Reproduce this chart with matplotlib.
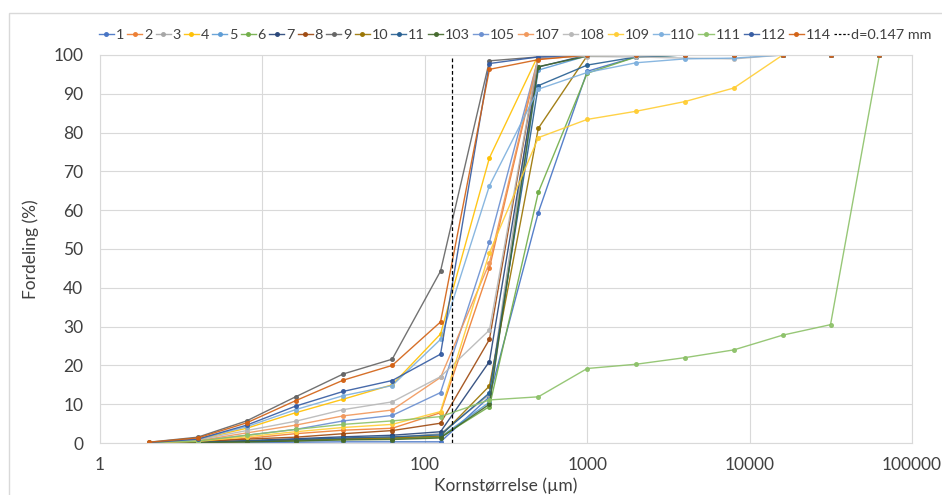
import matplotlib
matplotlib.use("Agg")
import matplotlib.pyplot as plt
from matplotlib.lines import Line2D
from matplotlib.patches import Rectangle
from matplotlib.ticker import FixedLocator, FixedFormatter, NullLocator

# Sieve / grain sizes (µm)
sizes = [2, 4, 8, 16, 31.5, 63, 125, 250, 500, 1000, 2000, 4000, 8000, 16000, 31500, 63000]

# Cumulative distribution (%) per sample
s1 = [0.0, 0.0, 0.1, 0.2, 0.3, 0.3, 0.3, 11.9, 59.4, 95.8, 99.5, 100, 100, 100, 100, 100]
s2 = [0.1, 0.3, 1.2, 2.4, 3.3, 3.8, 7.8, 45.1, 99.0, 99.8, 100, 100, 100, 100, 100, 100]
s3 = [0.0, 0.1, 0.5, 0.9, 1.2, 1.4, 2.4, 12.5, 99.5, 100, 100, 100, 100, 100, 100, 100]
s4 = [0.1, 0.9, 3.8, 7.8, 11.3, 15.0, 28.1, 73.5, 100, 100, 100, 100, 100, 100, 100, 100]
s5 = [0.0, 0.1, 0.4, 0.7, 1.0, 1.2, 1.6, 10.5, 96.1, 99.8, 100, 100, 100, 100, 100, 100]
s6 = [0.0, 0.1, 0.3, 0.6, 0.9, 1.1, 1.5, 9.4, 64.6, 95.3, 99.5, 100, 100, 100, 100, 100]
s7 = [0.0, 0.2, 0.6, 1.1, 1.6, 2.0, 2.9, 21.0, 96.9, 100, 100, 100, 100, 100, 100, 100]
s8 = [0.1, 0.3, 1.0, 1.5, 2.4, 3.2, 5.1, 26.7, 99.5, 100, 100, 100, 100, 100, 100, 100]
s9 = [0.2, 1.5, 5.7, 11.9, 17.8, 21.6, 44.3, 98.5, 99.5, 100, 100, 100, 100, 100, 100, 100]
s10 = [0.0, 0.1, 0.4, 0.8, 1.1, 1.3, 1.8, 14.7, 81.1, 99.8, 100, 100, 100, 100, 100, 100]
s11 = [0.0, 0.2, 0.5, 0.9, 1.3, 1.6, 2.1, 12.9, 92.1, 97.4, 99.5, 100, 100, 100, 100, 100]
s103 = [0.0, 0.1, 0.3, 0.5, 0.8, 0.9, 1.3, 10.0, 97.0, 99.7, 100, 100, 100, 100, 100, 100]
s105 = [0.1, 0.5, 2.0, 3.5, 5.7, 7.1, 13.0, 51.8, 99.2, 100, 100, 100, 100, 100, 100, 100]
s107 = [0.1, 0.6, 2.6, 4.6, 7.0, 8.5, 16.9, 46.4, 99.5, 100, 100, 100, 100, 100, 100, 100]
s108 = [0.1, 0.8, 3.2, 5.6, 8.6, 10.6, 17.1, 29.1, 99.5, 99.6, 99.5, 99.2, 99.0, 100, 100, 100]
s109 = [0.1, 0.4, 1.6, 2.9, 4.0, 4.8, 8.1, 49.0, 78.7, 83.4, 85.5, 88.0, 91.5, 100, 100, 100]
s110 = [0.1, 1.0, 4.2, 8.6, 12.2, 14.8, 26.7, 66.3, 91.2, 95.5, 98.0, 99.0, 99.2, 100, 100, 100]
s111 = [0.1, 0.5, 2.0, 3.5, 4.8, 5.7, 6.8, 11.1, 11.9, 19.2, 20.3, 22.0, 24.0, 27.8, 30.5, 100]
s112 = [0.1, 1.0, 4.6, 9.5, 13.3, 16.1, 22.9, 97.8, 99.5, 100, 100, 100, 100, 100, 100, 100]
s114 = [0.2, 1.3, 5.2, 10.9, 16.2, 20.0, 31.2, 96.3, 98.8, 100, 100, 100, 100, 100, 100, 100]

labels = ["1", "2", "3", "4", "5", "6", "7", "8", "9", "10", "11",
          "103", "105", "107", "108", "109", "110", "111", "112", "114"]
series = [s1, s2, s3, s4, s5, s6, s7, s8, s9, s10, s11,
          s103, s105, s107, s108, s109, s110, s111, s112, s114]
colors = ["#4472C4", "#ED7D31", "#A5A5A5", "#FFC000", "#5B9BD5", "#70AD47",
          "#264478", "#9E480E", "#636363", "#997300", "#255E91", "#43682B",
          "#698ED0", "#F1975A", "#B7B7B7", "#FFCD33", "#7CAFDD", "#8CC168",
          "#335AA1", "#D26012"]

d_limit = 147          # µm
d_label = "d=0.147 mm"

x_ticks = [1, 10, 100, 1000, 10000, 100000]
x_ticklabels = ["1", "10", "100", "1000", "10000", "100000"]
y_ticks = list(range(0, 101, 10))

plt.rcParams["font.family"] = ["Lato", "DejaVu Sans"]

W, H = 942, 495
fig = plt.figure(figsize=(W / 100, H / 100), dpi=100)
ax = fig.add_axes([100 / W, 1 - 443 / H, 812 / W, 388 / H])

grid_c = "#D9D9D9"
text_c = "#404040"
handles = []
for lab, vals, c in zip(labels, series, colors):
    h, = ax.plot(sizes, vals, color=c, lw=1.0, marker="o", ms=2.6,
                 mec=c, mfc=c, label=lab, alpha=0.9)
    handles.append(h)

ax.axvline(d_limit, color="black", lw=0.9, ls=(0, (3, 2)), ymin=0, ymax=1)
handles.append(Line2D([], [], color="black", lw=0.9, ls=(0, (2, 1.5))))

ax.set_xscale("log")
ax.set_xlim(1, 100000)
ax.set_ylim(0, 100)
ax.xaxis.set_major_locator(FixedLocator(x_ticks))
ax.xaxis.set_major_formatter(FixedFormatter(x_ticklabels))
ax.xaxis.set_minor_locator(NullLocator())
ax.set_yticks(y_ticks)
ax.grid(True, color=grid_c, lw=0.8)
ax.set_axisbelow(True)
for sp in ax.spines.values():
    sp.set_color(grid_c)
    sp.set_linewidth(0.8)
ax.tick_params(length=0, labelsize=12.5, colors=text_c)
ax.tick_params(axis="x", pad=10)
ax.tick_params(axis="y", pad=12)
ax.set_xlabel("Kornstørrelse (µm)", fontsize=12.5, color=text_c, labelpad=3)
ax.set_ylabel("Fordeling (%)", fontsize=12.5, color=text_c, labelpad=10)

fig.legend(handles, labels + [d_label], loc="center", ncol=len(handles),
           bbox_to_anchor=(515 / W, 1 - 35 / H), frameon=False,
           fontsize=10.4, handlelength=1.05, handletextpad=0.12,
           columnspacing=0.22, borderaxespad=0, borderpad=0,
           labelcolor=text_c)

# chart area outline
fig.patches.append(Rectangle((9 / W, -0.05), 1.2, 1.05 - 13 / H,
                             transform=fig.transFigure, fill=False,
                             edgecolor=grid_c, lw=1.0))

fig.savefig("out.png", dpi=100)
